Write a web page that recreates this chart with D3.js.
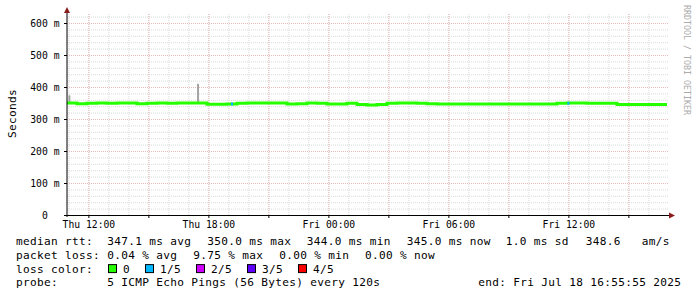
<!DOCTYPE html>
<html>
<head>
<meta charset="utf-8">
<script src="https://cdn.jsdelivr.net/npm/d3@7.9.0/dist/d3.min.js"></script>
<style>
  html, body { margin: 0; padding: 0; background: #fff; }
  svg { display: block; }
  text { font-family: "DejaVu Sans Mono", monospace; fill: #000; }
</style>
</head>
<body>
<div id="chart"></div>
<script>
// time window of the graph
const startTime = new Date(2025, 6, 17, 10, 55, 55);
const endTime = new Date(2025, 6, 18, 16, 55, 55);
const stepMinutes = 30;

// median rtt (ms), one value per 30 min step from startTime
const medianMs = [
  350, 348, 349, 350, 349, 350, 350, 348, 349, 350,
  349, 350, 350, 350, 346, 346, 347, 349, 350, 350,
  350, 350, 347, 348, 350, 349, 347, 347, 349, 345,
  344, 345, 349, 350, 350, 349, 348, 347, 347, 347,
  347, 347, 347, 347, 347, 347, 347, 347, 347, 349,
  350, 350, 349, 349, 349, 345, 345, 345, 345, 345
];

// packet loss events drawn on the median line
const lossTimes = [new Date(2025, 6, 17, 19, 8), new Date(2025, 6, 18, 11, 57)];
const lossLevel = [1, 1];
const lossMs = [347, 349];

// smoke spikes (spread of the pings)
const smokeTimes = [new Date(2025, 6, 17, 11, 0), new Date(2025, 6, 17, 17, 26)];
const smokeLow = [348, 349];
const smokeHigh = [374, 410];

const lossNames = ['0', '1/5', '2/5', '3/5', '4/5'];
const lossColors = ['#26ff00', '#00b8ff', '#d000ff', '#5e00ff', '#ff0000'];

const legendLines = [
  { label: 'median rtt:', items: [
    ['347.1 ms avg', 107.3], ['350.0 ms max', 207.3], ['344.0 ms min', 306.7],
    ['345.0 ms now', 406.7], ['1.0 ms sd', 505.7], ['348.6', 585.7], ['am/s', 641.7]] },
  { label: 'packet loss:', items: [
    ['0.04 % avg', 107.3], ['9.75 % max', 193.3], ['0.00 % min', 279.3], ['0.00 % now', 365]] },
  { label: 'probe:', items: [
    ['5 ICMP Echo Pings (56 Bytes) every 120s', 107.3], ['end: Fri Jul 18 16:55:55 2025', 478.3]] }
];
const lossBoxX = [108.5, 145.5, 196.5, 247.5, 298.5];

const width = 697, height = 297;
const plot = { left: 67, right: 667, top: 15, bottom: 215 };

const svg = d3.select('#chart').append('svg')
  .attr('width', width).attr('height', height)
  .attr('viewBox', `0 0 ${width} ${height}`);

svg.append('rect').attr('width', width).attr('height', height).attr('fill', '#fff');

const x = d3.scaleTime().domain([startTime, endTime]).range([plot.left, plot.right]);
const y = d3.scaleLinear().domain([0, 625]).range([plot.bottom, plot.top]);

const minorColor = '#dadada';
const majorColor = '#eab9b9';

// minor grid
const grid = svg.append('g').attr('class', 'grid');
grid.append('g')
  .attr('transform', `translate(0,${plot.bottom})`)
  .call(d3.axisBottom(x).ticks(d3.timeHour.every(1)).tickSize(-(plot.bottom - plot.top + 1)).tickFormat(''))
  .call(g => g.select('.domain').remove())
  .call(g => g.selectAll('line').attr('stroke', minorColor).attr('stroke-dasharray', '1,1'));
grid.append('g')
  .attr('transform', `translate(${plot.left},0)`)
  .call(d3.axisLeft(y).tickValues(d3.range(20, 621, 20)).tickSize(-(plot.right - plot.left + 2)).tickFormat(''))
  .call(g => g.select('.domain').remove())
  .call(g => g.selectAll('line').attr('stroke', minorColor).attr('stroke-dasharray', '1,1'));

// major grid
grid.append('g')
  .attr('transform', `translate(0,${plot.bottom})`)
  .call(d3.axisBottom(x).ticks(d3.timeHour.every(3)).tickSize(-(plot.bottom - plot.top + 1)).tickFormat(''))
  .call(g => g.select('.domain').remove())
  .call(g => g.selectAll('line').attr('stroke', majorColor).attr('stroke-dasharray', '1,1'));
grid.append('g')
  .attr('transform', `translate(${plot.left},0)`)
  .call(d3.axisLeft(y).tickValues(d3.range(100, 601, 100)).tickSize(-(plot.right - plot.left + 2)).tickFormat(''))
  .call(g => g.select('.domain').remove())
  .call(g => g.selectAll('line').attr('stroke', majorColor).attr('stroke-dasharray', '1,1'));

// smoke
smokeTimes.forEach((t, i) => {
  svg.append('rect')
    .attr('x', x(t)).attr('width', 2)
    .attr('y', y(smokeHigh[i])).attr('height', y(smokeLow[i]) - y(smokeHigh[i]))
    .attr('fill', '#a4a4a4');
});

// median line
const medianPts = medianMs.map((v, i) => ({ t: d3.timeMinute.offset(startTime, i * stepMinutes), v }));
medianPts.push({ t: endTime, v: medianMs[medianMs.length - 1] });
svg.append('path')
  .datum(medianPts)
  .attr('fill', 'none')
  .attr('stroke', lossColors[0])
  .attr('stroke-width', 3)
  .attr('d', d3.line().x(d => x(d.t)).y(d => y(d.v)).curve(d3.curveStepAfter));

// loss markers
lossTimes.forEach((t, i) => {
  svg.append('rect')
    .attr('x', x(t)).attr('width', 2)
    .attr('y', y(lossMs[i]) - 1.5).attr('height', 3)
    .attr('fill', lossColors[lossLevel[i]]);
});

// axes
const yAxis = svg.append('g')
  .attr('transform', `translate(${plot.left},0)`)
  .call(d3.axisLeft(y).tickValues(d3.range(0, 601, 100)).tickSize(3).tickPadding(4.5)
    .tickFormat(d => d === 0 ? '0' : d + ' m'));
yAxis.select('.domain').remove();
yAxis.selectAll('line').attr('stroke', '#000');
yAxis.selectAll('text').style('font-size', '9.72px').attr('dy', '0.36em')
  .filter(d => d === 0).attr('dx', -11.7);

const xAxis = svg.append('g')
  .attr('transform', `translate(0,${plot.bottom})`)
  .call(d3.axisBottom(x).ticks(d3.timeHour.every(6)).tickSize(0).tickPadding(6)
    .tickFormat(d3.timeFormat('%a %H:%M')));
xAxis.select('.domain').remove();
xAxis.selectAll('text').style('font-size', '9.72px');

// x major ticks
svg.append('g')
  .attr('transform', `translate(0,${plot.bottom})`)
  .call(d3.axisBottom(x).ticks(d3.timeHour.every(3)).tickSize(3).tickFormat(''))
  .call(g => g.select('.domain').remove())
  .call(g => g.selectAll('line').attr('stroke', '#000'));

svg.append('line')
  .attr('x1', plot.left).attr('x2', plot.left)
  .attr('y1', plot.bottom + 2).attr('y2', 10)
  .attr('stroke', '#000').attr('stroke-width', 1);
svg.append('line')
  .attr('x1', plot.left - 3).attr('x2', 671)
  .attr('y1', plot.bottom + 0.5).attr('y2', plot.bottom + 0.5)
  .attr('stroke', '#000').attr('stroke-width', 1.2);
svg.append('path').attr('d', 'M64,13 L70,13 L67,7 Z').attr('fill', '#8b1c1c');
svg.append('path').attr('d', 'M669,212.5 L669,218.5 L675,215.5 Z').attr('fill', '#8b1c1c');

// unit label
svg.append('text')
  .attr('transform', 'translate(16,113.5) rotate(-90)')
  .attr('text-anchor', 'middle')
  .style('font-size', '11.1px').style('letter-spacing', '0.3px')
  .text('Seconds');

// watermark
svg.append('text')
  .attr('transform', 'translate(684,5) rotate(90)')
  .style('font-size', '8.3px').style('fill', '#ababab')
  .text('RRDTOOL / TOBI OETIKER');

// legend
const legend = svg.append('g').style('font-size', '11.1px').style('letter-spacing', '0.32px');
const baselines = [245, 258.8, 272.6, 286.4];
[legendLines[0], legendLines[1], null, legendLines[2]].forEach((line, i) => {
  if (!line) return;
  legend.append('text').attr('x', 16).attr('y', baselines[i]).text(line.label);
  line.items.forEach(([txt, px]) => {
    legend.append('text').attr('x', px).attr('y', baselines[i]).text(txt);
  });
});
legend.append('text').attr('x', 16).attr('y', baselines[2]).text('loss color:');
lossNames.forEach((name, i) => {
  legend.append('rect')
    .attr('x', lossBoxX[i]).attr('y', baselines[2] - 8)
    .attr('width', 8).attr('height', 8)
    .attr('fill', lossColors[i]).attr('stroke', '#000').attr('stroke-width', 1);
  legend.append('text').attr('x', lossBoxX[i] + 14.5).attr('y', baselines[2]).text(name);
});
</script>
</body>
</html>
